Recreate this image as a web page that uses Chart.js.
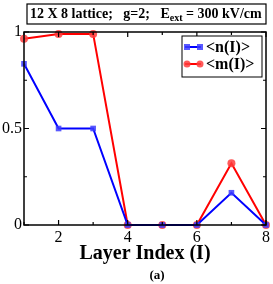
<!DOCTYPE html>
<html lang="en">
<head>
  <meta charset="UTF-8">
  <title>Layer Index</title>
  <script src="https://cdn.jsdelivr.net/npm/chart.js"></script>
  <style>
    html, body { margin: 0; padding: 0; background: #fff; }
    #wrap { width: 273px; height: 284px; }
  </style>
</head>
<body>
  <div id="wrap"><canvas id="c" width="273" height="284"></canvas></div>

  <script>
    // data
    const layers = [1, 2, 3, 4, 5, 6, 7, 8];
    const nValues = [0.835, 0.5, 0.5, 0, 0, 0, 0.167, 0];
    const mValues = [0.965, 0.99, 0.99, 0, 0, 0, 0.32, 0];
    const xTickLabels = [2, 4, 6, 8];
    const yTickLabels = [0, 0.5, 1];
    const seriesNames = ['<n(I)>', '<m(I)>'];

    const SERIF = '"Liberation Serif", "DejaVu Serif", serif';
    const BLUE = '#0000ff';
    const RED = '#ff0000';

    // frame, inward ticks, legend box, title box, panel label
    const decor = {
      id: 'decor',
      afterDraw(chart) {
        const ctx = chart.ctx;
        const a = chart.chartArea;
        const sx = chart.scales.x, sy = chart.scales.y;
        ctx.save();
        ctx.strokeStyle = '#000';
        ctx.lineWidth = 1.5;
        ctx.strokeRect(a.left, a.top, a.right - a.left, a.bottom - a.top);

        ctx.lineWidth = 1.2;
        ctx.beginPath();
        layers.forEach(v => {
          const px = sx.getPixelForValue(v);
          const len = xTickLabels.includes(v) ? 5 : 3;
          ctx.moveTo(px, a.bottom); ctx.lineTo(px, a.bottom - len);
          ctx.moveTo(px, a.top); ctx.lineTo(px, a.top + len);
        });
        [0, 0.25, 0.5, 0.75, 1].forEach(v => {
          const py = sy.getPixelForValue(v);
          const len = yTickLabels.includes(v) ? 5 : 3;
          ctx.moveTo(a.left, py); ctx.lineTo(a.left + len, py);
          ctx.moveTo(a.right, py); ctx.lineTo(a.right - len, py);
        });
        ctx.stroke();

        // legend
        ctx.fillStyle = '#fff';
        ctx.fillRect(182, 36, 80, 41);
        ctx.lineWidth = 1;
        ctx.strokeRect(182, 36, 80, 41);
        const rows = [
          { y: 47, color: BLUE, fill: 'rgba(60,60,255,0.85)', square: true },
          { y: 64, color: RED, fill: 'rgba(255,60,60,0.85)', square: false }
        ];
        rows.forEach((r, i) => {
          ctx.strokeStyle = r.color;
          ctx.lineWidth = 2;
          ctx.beginPath(); ctx.moveTo(185, r.y); ctx.lineTo(201, r.y); ctx.stroke();
          ctx.fillStyle = r.fill;
          [187, 200].forEach(mx => {
            ctx.beginPath();
            if (r.square) ctx.rect(mx - 3, r.y - 3, 6, 6);
            else ctx.arc(mx, r.y, 3.5, 0, Math.PI * 2);
            ctx.fill();
          });
          ctx.fillStyle = '#000';
          ctx.font = 'bold 16px ' + SERIF;
          ctx.textAlign = 'left';
          ctx.textBaseline = 'middle';
          ctx.fillText(seriesNames[i], 206, r.y + 1);
        });

        // title box
        ctx.strokeStyle = '#000';
        ctx.lineWidth = 1.2;
        ctx.strokeRect(27, 4, 239, 20);
        ctx.fillStyle = '#000';
        ctx.textBaseline = 'alphabetic';
        ctx.font = 'bold 14px ' + SERIF;
        let x = 30;
        const base = 18;
        const part1 = '12 X 8 lattice;   g=2;   E';
        ctx.fillText(part1, x, base);
        x += ctx.measureText(part1).width;
        ctx.font = 'bold 10px ' + SERIF;
        ctx.fillText('ext', x, base + 3);
        x += ctx.measureText('ext').width;
        ctx.font = 'bold 14px ' + SERIF;
        ctx.fillText(' = 300 kV/cm', x, base);

        // panel label
        ctx.font = 'bold 13px ' + SERIF;
        ctx.textAlign = 'center';
        ctx.textBaseline = 'middle';
        ctx.fillText('(a)', 157, 276);
        ctx.restore();
      }
    };

    new Chart(document.getElementById('c'), {
      type: 'line',
      data: {
        datasets: [
          {
            label: seriesNames[0],
            data: layers.map((l, i) => ({ x: l, y: nValues[i] })),
            borderColor: BLUE,
            backgroundColor: 'rgba(60,60,255,0.85)',
            borderWidth: 2,
            pointStyle: 'rect',
            pointRadius: 4,
            pointBorderWidth: 0
          },
          {
            label: seriesNames[1],
            data: layers.map((l, i) => ({ x: l, y: mValues[i] })),
            borderColor: RED,
            backgroundColor: 'rgba(255,60,60,0.85)',
            borderWidth: 2,
            pointStyle: 'circle',
            pointRadius: 4,
            pointBorderWidth: 0
          }
        ]
      },
      options: {
        responsive: false,
        animation: false,
        clip: false,
        layout: { padding: { left: 2, right: 5, top: 32, bottom: 0 } },
        plugins: { legend: { display: false }, tooltip: { enabled: false } },
        scales: {
          x: {
            type: 'linear',
            min: 1, max: 8,
            grid: { display: false, drawTicks: false },
            border: { display: false },
            afterFit(s) { s.height = 59; },
            ticks: {
              stepSize: 1,
              padding: 3,
              color: '#000',
              font: { family: SERIF, size: 16 },
              callback: v => xTickLabels.includes(v) ? String(v) : ''
            },
            title: {
              display: true,
              text: 'Layer Index (I)',
              color: '#000',
              font: { family: SERIF, size: 20, weight: 'bold' },
              padding: { top: 0, bottom: 18 }
            }
          },
          y: {
            min: 0, max: 1,
            grid: { display: false, drawTicks: false },
            border: { display: false },
            afterFit(s) { s.width = 22; },
            ticks: {
              stepSize: 0.25,
              padding: 2,
              color: '#000',
              font: { family: SERIF, size: 16 },
              callback: v => yTickLabels.includes(v) ? String(v) : ''
            }
          }
        }
      },
      plugins: [decor]
    });
  </script>
</body>
</html>
